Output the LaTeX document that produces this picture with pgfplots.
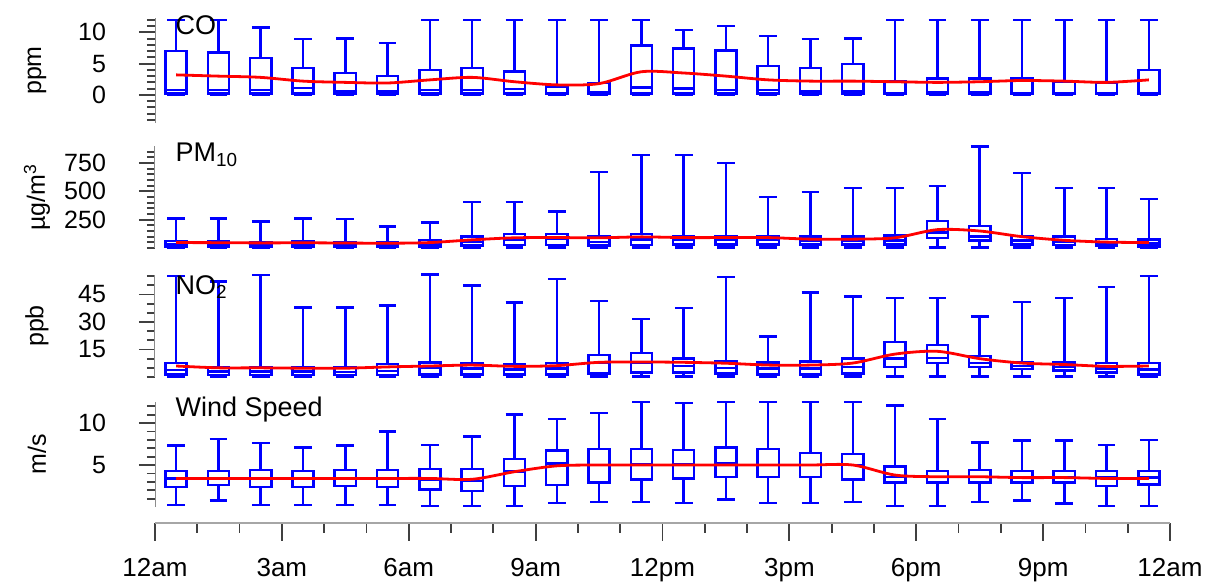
\documentclass[border=0pt]{standalone}
\usepackage{pgfplots}
\pgfplotsset{compat=1.18}
\usepgfplotslibrary{statistics}
\usepackage{pgfplotstable}
\usepackage{fontspec}
\setmainfont{Liberation Sans}

% one row per hour: x = hour + 0.5, box-whisker values and hourly mean
\pgfplotstableread{
x    lw  lq   med  uq   uw    mean
0.5  0   0.2  0.8  7.0  12    3.2
1.5  0   0.2  0.8  6.8  12    3.0
2.5  0   0.2  0.8  5.9  10.8  2.8
3.5  0   0.2  1.1  4.3  8.9   2.2
4.5  0   0.1  0.5  3.5  9.0   2.0
5.5  0   0.1  0.5  3.0  8.3   1.9
6.5  0   0.2  0.8  4.0  12    2.4
7.5  0   0.2  0.8  4.3  12    2.8
8.5  0   0.2  0.9  3.7  12    2.1
9.5  0   0.1  0.3  1.3  12    1.6
10.5 0   0.1  0.4  1.9  12    1.8
11.5 0   0.2  1.2  7.9  12    3.7
12.5 0   0.2  1.0  7.4  10.4  3.5
13.5 0   0.2  0.8  7.1  11.0  3.0
14.5 0   0.2  0.8  4.6  9.4   2.4
15.5 0   0.1  0.5  4.3  8.9   2.2
16.5 0   0.1  0.5  4.9  9.0   2.2
17.5 0   0.1  0.3  2.1  12    2.1
18.5 0   0.1  0.4  2.6  12    2.0
19.5 0   0.1  0.4  2.6  12    2.1
20.5 0   0.1  0.3  2.6  12    2.3
21.5 0   0.1  0.3  2.1  12    2.2
22.5 0   0.1  0.3  1.9  12    2.0
23.5 0   0.1  0.3  4.0  12    2.4
}\cotab

\pgfplotstableread{
x    lw  lq  med  uq   uw   mean
0.5  5   15  35   60   262  48
1.5  5   15  35   60   260  47
2.5  5   15  30   55   232  45
3.5  5   15  35   60   260  46
4.5  5   12  30   55   258  44
5.5  5   12  28   50   190  42
6.5  5   15  30   70   224  48
7.5  5   20  55   100  408  72
8.5  5   25  75   125  408  90
9.5  5   25  80   125  320  92
10.5 5   20  55   100  670  90
11.5 5   25  75   125  820  98
12.5 5   30  70   100  820  92
13.5 5   30  70   100  750  92
14.5 5   30  70   105  450  92
15.5 5   30  65   100  495  78
16.5 5   30  65   100  530  78
17.5 5   30  65   110  530  90
18.5 5   90  135  240  548  162
19.5 5   65  100  195  895  150
20.5 5   30  65   105  662  100
21.5 5   25  55   100  530  68
22.5 5   20  45   80   530  52
23.5 5   15  40   75   434  48
}\pmtab

\pgfplotstableread{
x    lw   lq   med   uq    uw    mean
0.5  0.3  1.5  3.8   7.6   55    6.0
1.5  0.3  1.2  3.0   5.5   52    5.0
2.5  0.3  1.2  3.0   5.5   55.5  5.0
3.5  0.3  1.0  3.0   5.5   38    4.8
4.5  0.3  1.0  2.8   5.5   38    4.8
5.5  0.3  1.2  3.2   7.0   39    5.5
6.5  0.3  1.5  5.0   8.0   56    6.0
7.5  0.3  1.5  4.5   7.6   50    6.5
8.5  0.3  1.5  4.0   7.0   40.5  5.8
9.5  0.3  1.5  4.5   7.5   53.5  6.2
10.5 0.3  2.0  7.5   12    41.5  8.0
11.5 0.3  2.5  7.6   13    31.5  8.2
12.5 0.3  2.5  6.0   10    37.5  8.0
13.5 0.3  2.0  5.0   8.5   54.5  7.5
14.5 0.3  1.5  4.5   8.0   22    6.5
15.5 0.3  1.5  4.5   8.5   46    6.5
16.5 0.3  2.0  5.5   10    44    7.6
17.5 0.3  5.5  10    19    43    12.5
18.5 0.3  7.6  10.4  17.5  43    14
19.5 0.3  5.5  7.6   11.5  33    10
20.5 0.3  4.4  6.0   8.0   41    7.6
21.5 0.3  3.5  5.5   8.0   43    6.8
22.5 0.3  2.5  4.5   7.5   49    5.8
23.5 0.3  1.5  4.0   7.5   55    6.0
}\notab

\pgfplotstableread{
x    lw    lq   med  uq   uw    mean
0.5  0.25  2.4  3.4  4.3  7.3   3.4
1.5  0.8   2.6  3.4  4.3  8.1   3.4
2.5  0.25  2.4  3.4  4.4  7.6   3.4
3.5  0.25  2.4  3.4  4.3  7.1   3.4
4.5  0.25  2.5  3.4  4.4  7.3   3.4
5.5  0.25  2.4  3.4  4.4  9.0   3.4
6.5  0.1   2.1  3.3  4.5  7.4   3.4
7.5  0.1   1.9  3.1  4.5  8.4   3.3
8.5  0.1   2.5  4.2  5.7  11.0  4.2
9.5  0.5   2.6  5.2  6.7  10.5  4.9
10.5 0.6   2.9  5.0  6.9  11.2  5.0
11.5 0.6   3.3  5.1  6.9  12.5  5.0
12.5 0.5   3.4  5.1  6.8  12.4  5.0
13.5 0.9   3.6  5.2  7.1  12.5  5.0
14.5 0.5   3.6  5.0  6.9  12.5  5.0
15.5 0.5   3.6  5.0  6.4  12.5  5.0
16.5 0.6   3.3  5.0  6.3  12.5  5.0
17.5 0.1   2.9  3.6  4.8  12.1  3.8
18.5 0.1   2.9  3.6  4.3  10.5  3.6
19.5 0.6   2.9  3.6  4.4  7.7   3.6
20.5 0.8   2.9  3.6  4.3  7.9   3.5
21.5 0.4   2.9  3.6  4.3  7.9   3.5
22.5 0.1   2.5  3.6  4.3  7.4   3.4
23.5 0.1   2.7  3.5  4.3  8.0   3.4
}\wstab

\newcommand{\lbl}{\fontsize{12.5}{15}\selectfont}
\newcommand{\ttl}{\fontsize{13.5}{16}\selectfont}

\pgfplotsset{
  panel/.style={
    scale only axis, width=507.5pt, xmin=0, xmax=24,
    axis x line=none, axis y line*=left, clip=false,
    axis line style={black!45, line width=0.5pt},
    tick align=outside, major tick length=8pt, minor tick length=4pt,
    tick style={black!75, line width=0.9pt},
    tick label style={font=\lbl},
    yticklabel style={xshift=-13pt},
    ylabel style={font=\lbl, at={(axis description cs:-0.1163,0.5)}, anchor=center},
    boxplot/draw direction=y, boxplot/box extend=0.5, boxplot/whisker extend=0.42,
  },
  bx/.style={draw=blue, line width=1.25pt, solid, mark=none},
  avg/.style={red, line width=1.4pt, smooth, mark=none},
}

% one box per table row, then the smooth mean line
\newcommand{\boxes}[1]{%
  \pgfplotsinvokeforeach{0,...,23}{%
    \pgfplotstablegetelem{##1}{lw}\of{#1}\let\vlw\pgfplotsretval
    \pgfplotstablegetelem{##1}{lq}\of{#1}\let\vlq\pgfplotsretval
    \pgfplotstablegetelem{##1}{med}\of{#1}\let\vmed\pgfplotsretval
    \pgfplotstablegetelem{##1}{uq}\of{#1}\let\vuq\pgfplotsretval
    \pgfplotstablegetelem{##1}{uw}\of{#1}\let\vuw\pgfplotsretval
    \edef\tmp{\noexpand\addplot[bx, boxplot prepared={draw position=##1.5,
      lower whisker=\vlw, lower quartile=\vlq, median=\vmed,
      upper quartile=\vuq, upper whisker=\vuw}] coordinates {};}%
    \tmp
  }%
  \addplot[avg] table[x=x, y=mean] {#1};
}

\begin{document}
\begin{tikzpicture}
\useasboundingbox (0,0) rectangle (608pt,292.5pt);

% CO
\begin{axis}[panel, at={(77.5pt,231pt)}, anchor=south west, height=52.5pt,
  ymin=-4.5, ymax=12.3, ytick={0,5,10}, yticklabels={0,5,10},
  minor ytick={-4,...,12}, ylabel={ppm}]
\boxes{\cotab}
\node[anchor=north west, inner sep=0pt, font=\ttl] at (rel axis cs:0.02,1.03) {CO};
\end{axis}

% PM10
\begin{axis}[panel, at={(77.5pt,168.5pt)}, anchor=south west, height=51pt,
  ymin=0, ymax=900, ytick={250,500,750}, yticklabels={250,500,750},
  minor ytick={0,50,...,850}, ylabel={µg/m\textsuperscript{3}}]
\boxes{\pmtab}
\node[anchor=north west, inner sep=0pt, font=\ttl] at (rel axis cs:0.02,1.03) {PM\textsubscript{10}};
\end{axis}

% NO2
\begin{axis}[panel, at={(77.5pt,104pt)}, anchor=south west, height=51pt,
  ymin=0, ymax=55.6, ytick={15,30,45}, yticklabels={15,30,45},
  minor ytick={0,5,...,55}, ylabel={ppb}]
\boxes{\notab}
\node[anchor=north west, inner sep=0pt, font=\ttl] at (rel axis cs:0.02,1.0) {NO\textsubscript{2}};
\end{axis}

% wind speed
\begin{axis}[panel, at={(77.5pt,39pt)}, anchor=south west, height=52.5pt,
  ymin=0, ymax=12.5, ytick={5,10}, yticklabels={5,10},
  minor ytick={1,...,12}, ylabel={m/s}]
\boxes{\wstab}
\node[anchor=north west, inner sep=0pt, font=\ttl] at (rel axis cs:0.02,1.05) {Wind Speed};
\end{axis}

% shared time axis
\begin{axis}[scale only axis, width=507.5pt, height=1pt,
  at={(77.5pt,31pt)}, anchor=south west,
  xmin=0, xmax=24, ymin=0, ymax=1,
  axis x line*=bottom, axis y line=none,
  axis line style={black!35, line width=0.6pt},
  tick align=outside, major tick length=9pt, minor tick length=5pt,
  tick style={black!75, line width=0.9pt},
  xtick={0,3,...,24},
  xticklabels={12am,3am,6am,9am,12pm,3pm,6pm,9pm,12am},
  minor xtick={0,...,24},
  tick label style={font=\fontsize{13}{15}\selectfont},
  xticklabel style={yshift=-5pt}]
\end{axis}
\end{tikzpicture}
\end{document}
